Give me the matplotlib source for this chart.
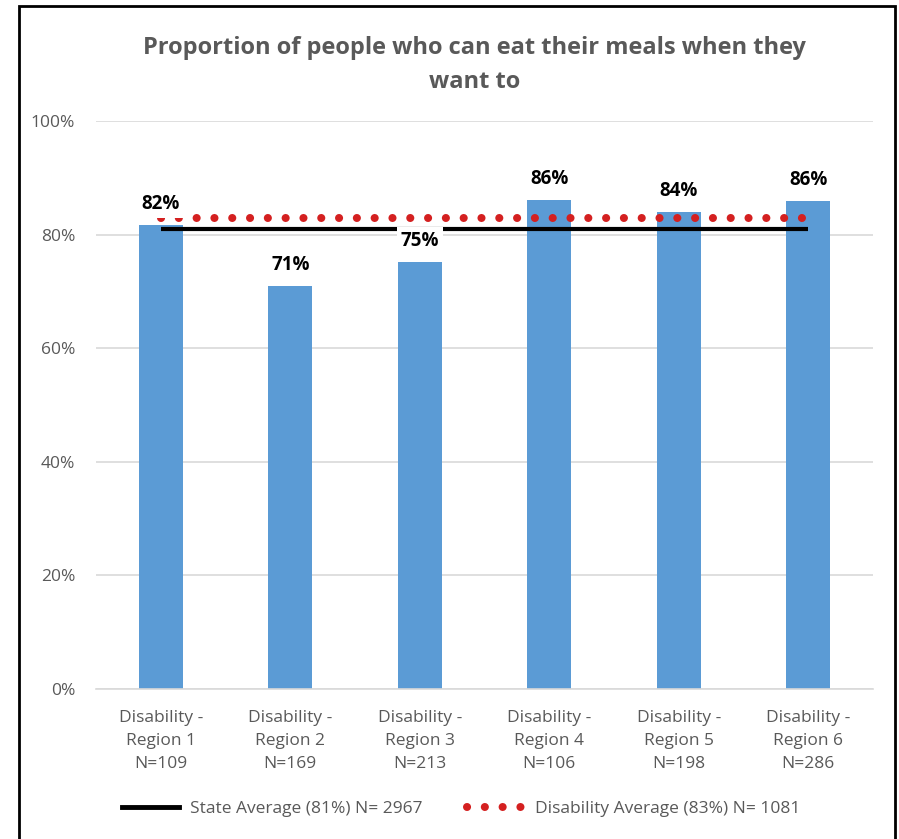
import matplotlib
matplotlib.use("Agg")
import matplotlib.pyplot as plt
from matplotlib.patches import Rectangle
from matplotlib.lines import Line2D

plt.rcParams['font.family'] = ['Open Sans', 'DejaVu Sans']

# data
categories = ["Disability -\nRegion 1\nN=109", "Disability -\nRegion 2\nN=169",
              "Disability -\nRegion 3\nN=213", "Disability -\nRegion 4\nN=106",
              "Disability -\nRegion 5\nN=198", "Disability -\nRegion 6\nN=286"]
values = [81.7, 71.0, 75.2, 86.1, 84.0, 85.9]
bar_labels = ["82%", "71%", "75%", "86%", "84%", "86%"]
state_avg = 81
disability_avg = 83
yticks = [0, 20, 40, 60, 80, 100]
ytick_labels = ["0%", "20%", "40%", "60%", "80%", "100%"]

gray = '#595959'
blue = '#5B9BD5'
red = '#D42020'

fig = plt.figure(figsize=(8.99, 8.39), dpi=100)
ax = fig.add_axes([0.1068, 0.1788, 0.8643, 0.677])

x = list(range(len(categories)))
ax.bar(x, values, width=0.34, color=blue, zorder=2)

ax.plot([x[0], x[-1]], [state_avg, state_avg], color='black', lw=3, zorder=3,
        solid_capstyle='butt')
ax.plot([x[0], x[-1]], [disability_avg, disability_avg], color=red, lw=5.8,
        linestyle=(0, (0.01, 2.2)), dash_capstyle='round', zorder=3)

for xi, v, lab in zip(x, values, bar_labels):
    ax.annotate(lab, (xi, v), xytext=(0, 8), textcoords='offset points',
                ha='center', va='bottom', fontsize=13.5, fontweight='bold',
                color='black', zorder=5,
                bbox=dict(boxstyle='square,pad=0.2', fc='white', ec='none'))

ax.set_xlim(-0.5, len(categories) - 0.5)
ax.set_ylim(0, 100)
ax.set_yticks(yticks)
ax.set_yticklabels(ytick_labels)
ax.set_xticks(x)
ax.set_xticklabels(categories, linespacing=1.6)
ax.tick_params(axis='both', length=0, labelsize=12.5, labelcolor=gray)
ax.tick_params(axis='y', pad=15)
ax.tick_params(axis='x', pad=15)
ax.grid(axis='y', color='#D9D9D9', lw=1.2, zorder=0)
ax.set_axisbelow(True)
for s in ['top', 'right', 'left']:
    ax.spines[s].set_visible(False)
ax.spines['bottom'].set_color('#D9D9D9')
ax.spines['bottom'].set_linewidth(1.2)

fig.text(0.528, 0.922, "Proportion of people who can eat their meals when they\nwant to",
         ha='center', va='center', fontsize=17, fontweight='bold', color=gray,
         linespacing=1.55)

handles = [Line2D([], [], color='black', lw=3.5),
           Line2D([], [], color=red, lw=5.8, linestyle=(0, (0.01, 2.2)),
                  dash_capstyle='round')]
fig.legend(handles, ["State Average (81%) N= 2967", "Disability Average (83%) N= 1081"],
           loc='center', bbox_to_anchor=(0.513, 0.036), ncol=2, frameon=False,
           fontsize=12.5, labelcolor=gray, handlelength=3.3, handletextpad=0.6,
           columnspacing=2.6)

# outer border
fig.patches.append(Rectangle((0.021, -0.01), 0.974, 1.003, transform=fig.transFigure,
                             fill=False, ec='black', lw=2))

fig.savefig("out.png", dpi=100)
